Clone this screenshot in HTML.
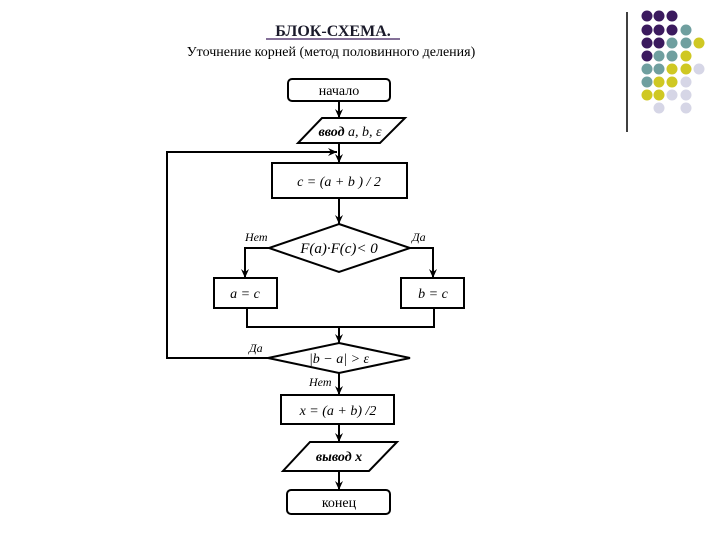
<!DOCTYPE html>
<html><head><meta charset="utf-8"><style>
body{margin:0;background:#fff;}
svg{display:block;}
text{font-family:"Liberation Serif",serif;}
</style></head><body>
<svg width="720" height="540" viewBox="0 0 720 540" xmlns="http://www.w3.org/2000/svg">
<defs>
<marker id="a" markerWidth="10" markerHeight="8" refX="9" refY="4" orient="auto" markerUnits="userSpaceOnUse"><path d="M0,0 L9,4 L0,8 L3,4 Z" fill="#000"/></marker>
</defs>
<text x="333" y="36" font-size="16" font-weight="bold" text-anchor="middle" fill="#1a1a2a">БЛОК-СХЕМА.</text>
<line x1="266" y1="39" x2="400" y2="39" stroke="#3a1a5a" stroke-width="1.2"/>
<text x="331" y="56" font-size="14" text-anchor="middle">Уточнение корней (метод половинного деления)</text>
<line x1="627" y1="12" x2="627" y2="132" stroke="#000" stroke-width="1.5"/>
<g>
<circle cx="647" cy="16" r="5.5" fill="#3b1a5e"/><circle cx="659" cy="16" r="5.5" fill="#3b1a5e"/><circle cx="672" cy="16" r="5.5" fill="#3b1a5e"/>
<circle cx="647" cy="30" r="5.5" fill="#3b1a5e"/><circle cx="659" cy="30" r="5.5" fill="#3b1a5e"/><circle cx="672" cy="30" r="5.5" fill="#3b1a5e"/><circle cx="686" cy="30" r="5.5" fill="#6f9f9f"/>
<circle cx="647" cy="43" r="5.5" fill="#3b1a5e"/><circle cx="659" cy="43" r="5.5" fill="#3b1a5e"/><circle cx="672" cy="43" r="5.5" fill="#6f9f9f"/><circle cx="686" cy="43" r="5.5" fill="#6f9f9f"/><circle cx="699" cy="43" r="5.5" fill="#cfc823"/>
<circle cx="647" cy="56" r="5.5" fill="#3b1a5e"/><circle cx="659" cy="56" r="5.5" fill="#6f9f9f"/><circle cx="672" cy="56" r="5.5" fill="#6f9f9f"/><circle cx="686" cy="56" r="5.5" fill="#cfc823"/>
<circle cx="647" cy="69" r="5.5" fill="#6f9f9f"/><circle cx="659" cy="69" r="5.5" fill="#6f9f9f"/><circle cx="672" cy="69" r="5.5" fill="#cfc823"/><circle cx="686" cy="69" r="5.5" fill="#cfc823"/><circle cx="699" cy="69" r="5.5" fill="#d6d6e6"/>
<circle cx="647" cy="82" r="5.5" fill="#6f9f9f"/><circle cx="659" cy="82" r="5.5" fill="#cfc823"/><circle cx="672" cy="82" r="5.5" fill="#cfc823"/><circle cx="686" cy="82" r="5.5" fill="#d6d6e6"/>
<circle cx="647" cy="95" r="5.5" fill="#cfc823"/><circle cx="659" cy="95" r="5.5" fill="#cfc823"/><circle cx="672" cy="95" r="5.5" fill="#d6d6e6"/><circle cx="686" cy="95" r="5.5" fill="#d6d6e6"/>
<circle cx="659" cy="108" r="5.5" fill="#d6d6e6"/><circle cx="686" cy="108" r="5.5" fill="#d6d6e6"/>
</g>
<g stroke="#000" stroke-width="2" fill="#fff">
<rect x="288" y="79" width="102" height="22" rx="4"/>
<polygon points="322,118 405,118 380,143 298,143"/>
<rect x="272" y="163" width="135" height="35"/>
<polygon points="339,224 410,248 339,272 269,248"/>
<rect x="214" y="278" width="63" height="30"/>
<rect x="401" y="278" width="63" height="30"/>
<polygon points="339,343 410,358 339,373 268,358"/>
<rect x="281" y="395" width="113" height="29"/>
<polygon points="310,442 397,442 369,471 283,471"/>
<rect x="287" y="490" width="103" height="24" rx="4"/>
</g>
<g stroke="#000" stroke-width="2" fill="none">
<line x1="339" y1="101" x2="339" y2="118" marker-end="url(#a)"/>
<line x1="339" y1="143" x2="339" y2="163" marker-end="url(#a)"/>
<polyline points="268,358 167,358 167,152 337,152" marker-end="url(#a)"/>
<line x1="339" y1="198" x2="339" y2="224" marker-end="url(#a)"/>
<polyline points="269,248 245,248 245,278" marker-end="url(#a)"/>
<polyline points="410,248 433,248 433,278" marker-end="url(#a)"/>
<polyline points="247,308 247,327 434,327 434,308"/>
<line x1="339" y1="327" x2="339" y2="343" marker-end="url(#a)"/>
<line x1="339" y1="373" x2="339" y2="395" marker-end="url(#a)"/>
<line x1="339" y1="424" x2="339" y2="442" marker-end="url(#a)"/>
<line x1="339" y1="471" x2="339" y2="490" marker-end="url(#a)"/>
</g>
<g font-size="14" text-anchor="middle">
<text x="339" y="95">начало</text>
<text x="350" y="136" font-style="italic"><tspan font-weight="bold">ввод</tspan> a, b, ε</text>
<text x="339" y="186" font-style="italic">c = (a + b ) / 2</text>
<text x="339" y="253" font-style="italic" font-size="15">F(a)·F(c)&lt; 0</text>
<text x="245" y="298" font-style="italic">a = c</text>
<text x="433" y="298" font-style="italic">b = c</text>
<text x="339" y="363" font-style="italic">|b − a| &gt; ε</text>
<text x="338" y="415" font-style="italic">x = (a + b) /2</text>
<text x="339" y="461" font-style="italic" font-weight="bold">вывод x</text>
<text x="339" y="507">конец</text>
</g>
<g font-size="12" font-style="italic">
<text x="245" y="241">Нет</text>
<text x="412" y="241">Да</text>
<text x="249" y="352">Да</text>
<text x="309" y="386">Нет</text>
</g>
</svg>
</body></html>
